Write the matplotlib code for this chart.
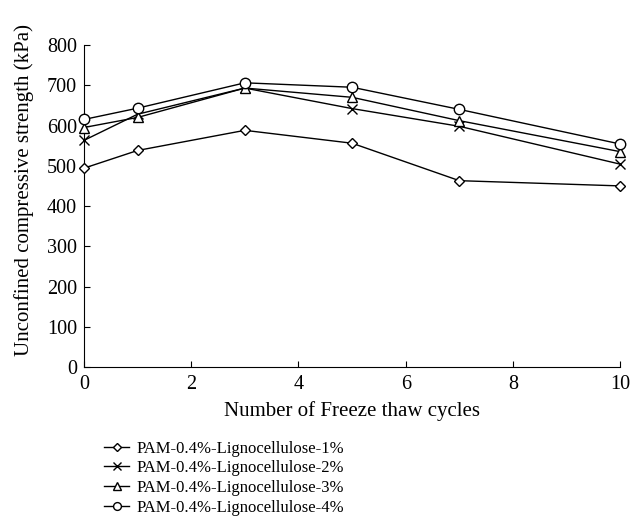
import matplotlib
matplotlib.use("Agg")
import matplotlib.pyplot as plt
import numpy as np
from matplotlib.legend_handler import HandlerLine2D

plt.rcParams['font.family'] = ['Liberation Serif', 'DejaVu Serif']

cycles = [0, 1, 3, 5, 7, 10]
s1 = [494, 538, 588, 556, 463, 450]
s2 = [563, 628, 693, 642, 598, 504]
s3 = [595, 620, 693, 670, 612, 535]
s4 = [615, 643, 706, 695, 640, 554]
labels = ["PAM-0.4%-Lignocellulose-1%", "PAM-0.4%-Lignocellulose-2%",
          "PAM-0.4%-Lignocellulose-3%", "PAM-0.4%-Lignocellulose-4%"]
markers = ['D', 'x', '^', 'o']
sizes = [5.5, 7.5, 7.5, 7.5]


class LeftMarkerHandler(HandlerLine2D):
    def get_xdata(self, legend, xdescent, ydescent, width, height, fontsize):
        xdata = np.array([-xdescent, -xdescent + width])
        xm = np.array([-xdescent + 0.25 * width])
        return xdata, xm


fig = plt.figure(figsize=(6.31, 5.29), dpi=100)
ax = fig.add_axes([0.133, 0.306, 0.850, 0.609])
lines = []
for ys, m, ms, lab in zip([s1, s2, s3, s4], markers, sizes, labels):
    ln, = ax.plot(cycles, ys, color='black', lw=1.0, marker=m, ms=ms,
                  mfc='white', mec='black', mew=1.0, label=lab, clip_on=False, zorder=3)
    lines.append(ln)
ax.set_xlim(0, 10)
ax.set_ylim(0, 800)
ax.set_xticks([0, 2, 4, 6, 8, 10])
ax.set_yticks(range(0, 801, 100))
ax.spines['top'].set_visible(False)
ax.spines['right'].set_visible(False)
ax.tick_params(direction='in', labelsize=14.5, length=4, pad=5)
ax.tick_params(axis='x', pad=6)
ax.set_xlabel("Number of Freeze thaw cycles", fontsize=15, labelpad=5)
ax.set_ylabel("Unconfined compressive strength (kPa)", fontsize=15)
ax.yaxis.set_label_coords(-0.094, 0.55)
leg = fig.legend(lines, labels, loc='upper left', bbox_to_anchor=(0.152, 0.183),
                 frameon=False, fontsize=12, handlelength=1.5, handletextpad=0.45,
                 labelspacing=0.22, borderpad=0, markerscale=0.75,
                 handler_map={l: LeftMarkerHandler() for l in lines})
fig.savefig("out.png", dpi=100)
